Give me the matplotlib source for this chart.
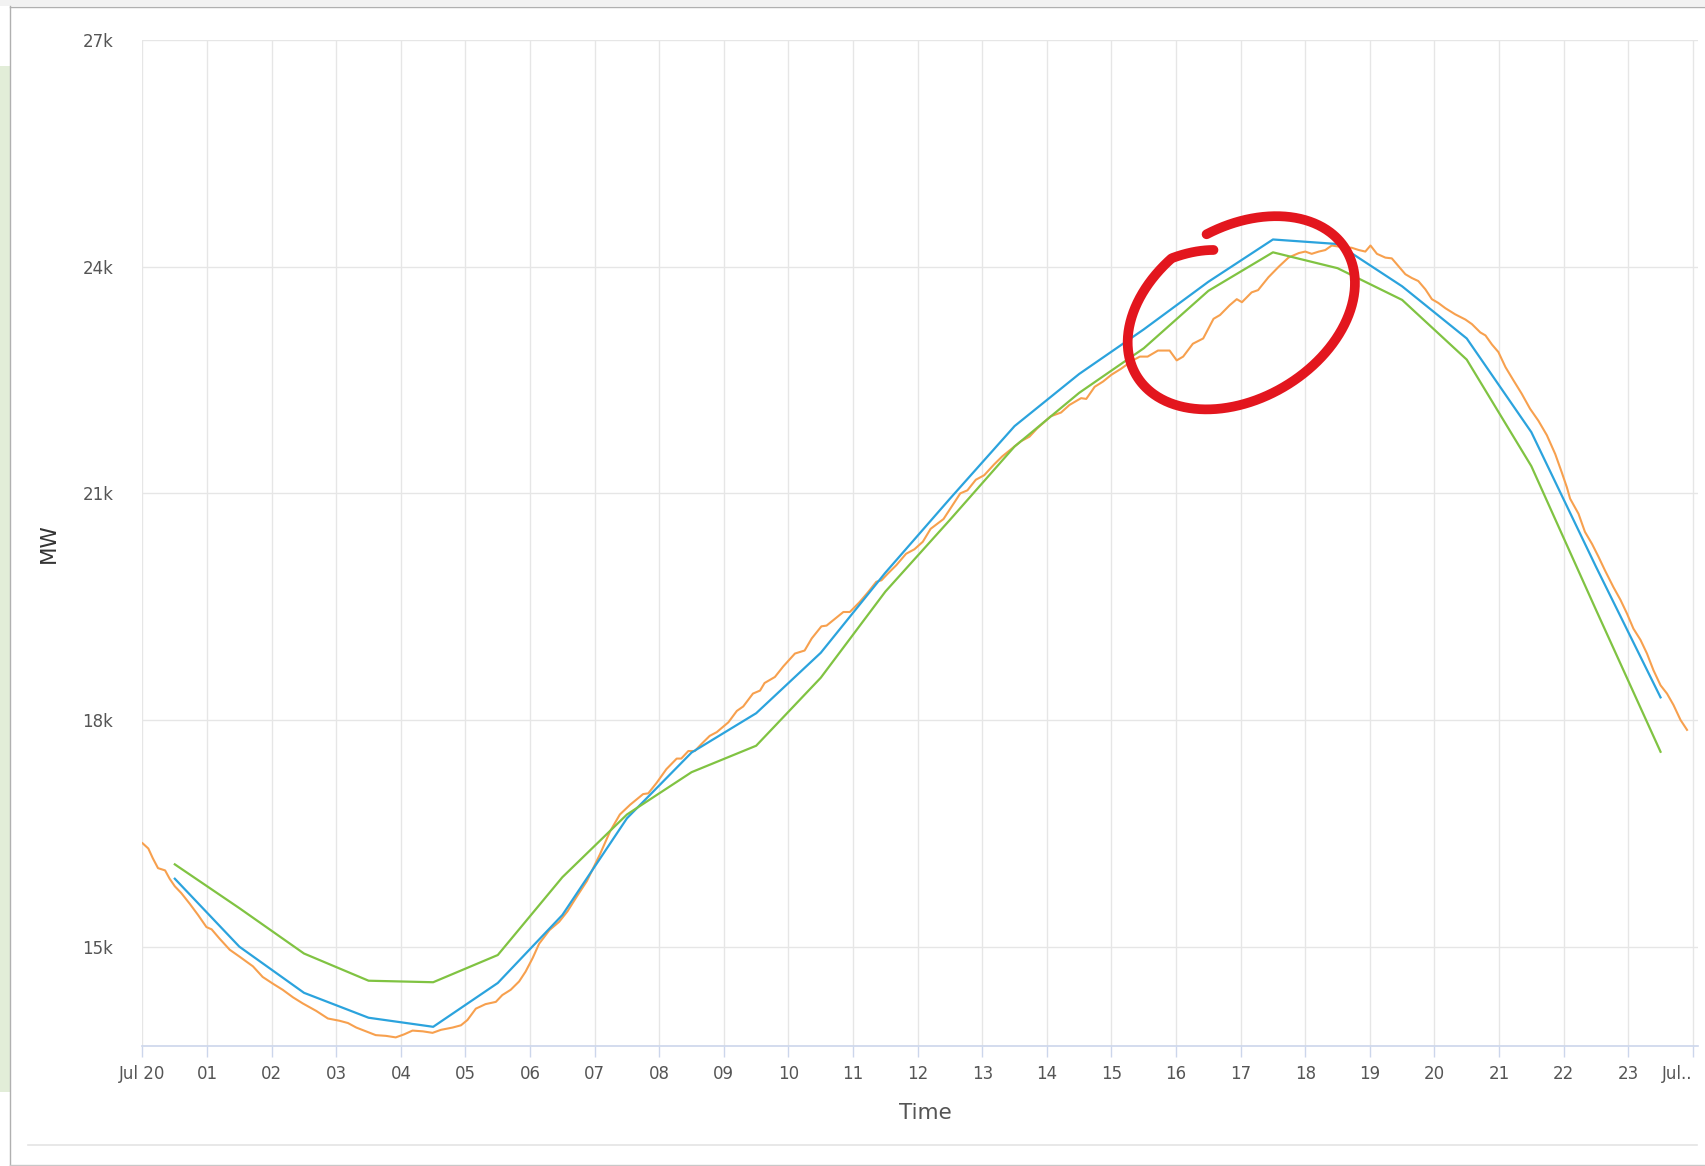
import matplotlib.pyplot as plt
import numpy as np
from matplotlib import transforms
from matplotlib.patches import Rectangle
from matplotlib.lines import Line2D
from matplotlib.ticker import FuncFormatter

# hourly forecasts, plotted at half past each hour
fc_hours = [0.5, 1.5, 2.5, 3.5, 4.5, 5.5, 6.5, 7.5, 8.5, 9.5, 10.5, 11.5,
            12.5, 13.5, 14.5, 15.5, 16.5, 17.5, 18.5, 19.5, 20.5, 21.5, 22.5, 23.5]
blue_mw = [15900, 15000, 14390, 14060, 13940, 14520, 15420, 16700, 17570, 18090, 18890, 19950,
           20930, 21890, 22580, 23170, 23800, 24360, 24300, 23740, 23050, 21810, 20030, 18300]
green_mw = [16090, 15510, 14910, 14550, 14530, 14890, 15920, 16750, 17310, 17660, 18560, 19700,
            20650, 21620, 22330, 22920, 23680, 24190, 23980, 23560, 22770, 21360, 19460, 17580]

load_hours = [0.00, 0.09, 0.16, 0.24, 0.35, 0.42, 0.50, 0.60, 0.73, 0.86, 0.99, 1.07, 1.19, 1.35,
              1.50, 1.71, 1.86, 2.02, 2.17, 2.33, 2.48, 2.69, 2.87, 3.05, 3.18, 3.31, 3.46, 3.61,
              3.77, 3.92, 4.05, 4.18, 4.34, 4.49, 4.62, 4.80, 4.93, 5.03, 5.16, 5.31, 5.47, 5.57,
              5.70, 5.83, 5.93, 6.04, 6.14, 6.30, 6.45, 6.58, 6.72, 6.88, 7.08, 7.24, 7.39, 7.55,
              7.75, 7.83, 7.96, 8.11, 8.27, 8.34, 8.45, 8.55, 8.65, 8.78, 8.89, 9.07, 9.20, 9.30,
              9.45, 9.56, 9.63, 9.79, 9.92, 10.10, 10.25, 10.36, 10.51, 10.59, 10.72, 10.85, 10.95,
              11.10, 11.23, 11.36, 11.44, 11.54, 11.67, 11.82, 11.95, 12.08, 12.20, 12.40, 12.53,
              12.66, 12.77, 12.90, 13.03, 13.18, 13.31, 13.47, 13.60, 13.73, 13.85, 14.06, 14.22,
              14.35, 14.53, 14.61, 14.74, 14.87, 15.00, 15.15, 15.33, 15.44, 15.56, 15.72, 15.90,
              16.01, 16.11, 16.26, 16.42, 16.58, 16.68, 16.83, 16.94, 17.02, 17.17, 17.27, 17.43,
              17.59, 17.74, 17.90, 18.00, 18.10, 18.21, 18.31, 18.41, 18.57, 18.72, 18.83, 18.93,
              19.01, 19.11, 19.24, 19.34, 19.44, 19.55, 19.65, 19.75, 19.86, 19.96, 20.06, 20.17,
              20.32, 20.48, 20.58, 20.71, 20.79, 20.89, 20.99, 21.10, 21.22, 21.35, 21.48, 21.61,
              21.74, 21.87, 21.97, 22.05, 22.10, 22.23, 22.33, 22.44, 22.54, 22.64, 22.77, 22.88,
              22.98, 23.08, 23.19, 23.29, 23.39, 23.50, 23.60, 23.70, 23.81, 23.91]
load_mw = [16370, 16300, 16170, 16040, 16010, 15900, 15800, 15710, 15570, 15420, 15260, 15230, 15110, 14960,
           14870, 14740, 14600, 14510, 14430, 14330, 14250, 14150, 14050, 14020, 13990, 13930, 13880, 13830,
           13820, 13800, 13840, 13890, 13880, 13860, 13900, 13930, 13960, 14030, 14180, 14240, 14270, 14360,
           14430, 14540, 14670, 14850, 15040, 15220, 15330, 15470, 15660, 15870, 16220, 16530, 16750, 16880,
           17020, 17030, 17170, 17350, 17490, 17490, 17590, 17590, 17680, 17790, 17840, 17970, 18120, 18180,
           18350, 18390, 18490, 18570, 18710, 18880, 18920, 19080, 19240, 19250, 19340, 19430, 19430,
           19560, 19690, 19830, 19850, 19940, 20050, 20200, 20260, 20360, 20530, 20660, 20830,
           21000, 21040, 21180, 21240, 21380, 21490, 21600, 21690, 21750, 21860, 22020, 22070,
           22170, 22260, 22250, 22410, 22480, 22570, 22650, 22760, 22810, 22810, 22890, 22890,
           22760, 22810, 22980, 23050, 23310, 23360, 23490, 23570, 23530, 23660, 23690, 23860,
           24000, 24120, 24180, 24200, 24170, 24200, 24220, 24280, 24260, 24250, 24220, 24200,
           24280, 24170, 24120, 24110, 24010, 23900, 23850, 23810, 23700, 23570, 23520, 23450,
           23370, 23300, 23240, 23130, 23090, 22970, 22870, 22670, 22500, 22320, 22120, 21960,
           21770, 21520, 21280, 21080, 20930, 20730, 20490, 20330, 20160, 19980, 19760, 19590,
           19410, 19210, 19060, 18880, 18660, 18460, 18350, 18200, 18000, 17870]

tick_hours = list(range(25))
tick_labels = ['Jul 20'] + ['%02d' % h for h in range(1, 24)] + ['Jul..']

W, H = 1706, 1166
fig = plt.figure(figsize=(W / 100, H / 100), dpi=100)
fig.patch.set_facecolor('white')


def fx(px):
    return px / W


def fy(py):
    return 1 - py / H


# screenshot frame around the chart
fig.add_artist(Rectangle((0, fy(6)), 1, 6 / H, transform=fig.transFigure, color='#f2f2f2', lw=0))
fig.add_artist(Rectangle((0, fy(1092)), fx(10), (1092 - 66) / H, transform=fig.transFigure,
                         color='#e2edd8', lw=0))
fig.add_artist(Line2D([fx(10), 1], [fy(6.5), fy(6.5)], transform=fig.transFigure, color='#b0b0b0', lw=1))
fig.add_artist(Line2D([fx(10.5), fx(10.5)], [fy(6), 0], transform=fig.transFigure, color='#b0b0b0', lw=1))
fig.add_artist(Line2D([fx(28), fx(1697)], [fy(1145), fy(1145)], transform=fig.transFigure,
                      color='#e4e4e4', lw=1.2))
fig.add_artist(Line2D([fx(10), 1], [fy(1164.5), fy(1164.5)], transform=fig.transFigure,
                      color='#c8c8c8', lw=1))

ax = fig.add_axes([fx(142.5), fy(1046), fx(1698) - fx(142.5), (1046 - 40) / H])
ax.set_facecolor('white')

ax.plot(load_hours, load_mw, color='#f7a04e', lw=1.5)
ax.plot(fc_hours, blue_mw, color='#2ba3dd', lw=1.6)
ax.plot(fc_hours, green_mw, color='#80c342', lw=1.6)

ax.set_xlim(0, 24.08)
ax.set_ylim(13686, 27000)
ax.set_xticks(tick_hours)
ax.set_xticklabels(tick_labels)
ax.get_xticklabels()[-1].set_ha('right')
ax.set_yticks([15000, 18000, 21000, 24000, 27000])
ax.yaxis.set_major_formatter(FuncFormatter(lambda v, p: '%dk' % round(v / 1000)))

ax.grid(True, color='#e6e6e6', lw=1)
ax.set_axisbelow(True)
for s in ['top', 'right', 'left']:
    ax.spines[s].set_visible(False)
ax.spines['bottom'].set_color('#ccd6eb')
ax.spines['bottom'].set_linewidth(1.2)

ax.tick_params(axis='x', length=8, width=1, color='#ccd6eb', pad=6, labelsize=12, labelcolor='#555555')
ax.tick_params(axis='y', length=0, pad=21, labelsize=12, labelcolor='#555555')

ax.set_xlabel('Time', fontsize=15.5, color='#555555')
ax.xaxis.set_label_coords(0.503, -0.0666)
ax.xaxis.label.set_va('center')
ax.set_ylabel('MW', fontsize=15.5, color='#333333')
ax.yaxis.set_label_coords(-0.0601, 0.50)
ax.yaxis.label.set_va('center')

# hand-drawn red ring around the late afternoon gap
ring = fig.dpi_scale_trans + transforms.ScaledTranslation(17.01, 23390, ax.transData)
t = np.radians(np.linspace(85, -275, 500))
shrink = np.clip(1 - 0.2 * (np.radians(-255) - t) / np.radians(20), 0.8, 1.0)
a, b, rot = 1.222, 0.855, np.radians(31)
ex = a * np.cos(t) * shrink
ey = b * np.sin(t) * shrink
rx = ex * np.cos(rot) - ey * np.sin(rot)
ry = ex * np.sin(rot) + ey * np.cos(rot)
ax.plot(rx, ry, transform=ring, color='#e3161e', lw=7, solid_capstyle='round', clip_on=False, zorder=10)

fig.savefig('out.png', dpi=100)
